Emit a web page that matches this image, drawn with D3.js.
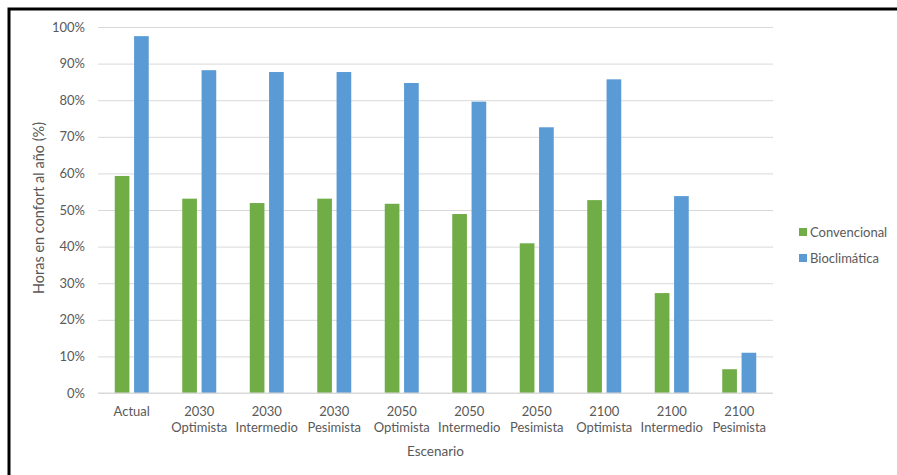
<!DOCTYPE html>
<html>
<head>
<meta charset="utf-8">
<script src="https://cdn.jsdelivr.net/npm/d3@7"></script>
<style>
  html, body { margin: 0; padding: 0; background: #fff; }
  svg { display: block; }
  text { font-family: Lato, "Open Sans", sans-serif; fill: #595959; }
</style>
</head>
<body>
<svg id="chart" width="897" height="475"></svg>
<script>
// Scenario categories (two-line labels) and comfort hours per building type
const scenarios = [
  ["Actual"],
  ["2030", "Optimista"],
  ["2030", "Intermedio"],
  ["2030", "Pesimista"],
  ["2050", "Optimista"],
  ["2050", "Intermedio"],
  ["2050", "Pesimista"],
  ["2100", "Optimista"],
  ["2100", "Intermedio"],
  ["2100", "Pesimista"]
];
const convencional = [59.3, 53.1, 51.9, 53.1, 51.7, 48.9, 40.9, 52.7, 27.3, 6.5];
const bioclimatica = [97.5, 88.2, 87.7, 87.7, 84.7, 79.6, 72.6, 85.7, 53.8, 11.0];
const seriesNames = ["Convencional", "Bioclimática"];
const seriesColors = ["#70ad47", "#5b9bd5"];
const yTicks = [0, 10, 20, 30, 40, 50, 60, 70, 80, 90, 100];

const svg = d3.select("#chart");
const margin = { left: 98, right: 124, top: 27, bottom: 82 };
const W = 897, H = 475;
const plotW = W - margin.left - margin.right;
const plotH = H - margin.top - margin.bottom;

// Outer frame
svg.append("rect")
  .attr("x", 9).attr("y", 9)
  .attr("width", W + 10).attr("height", H + 10)
  .attr("fill", "none").attr("stroke", "#000").attr("stroke-width", 3);

const g = svg.append("g").attr("transform", `translate(${margin.left},${margin.top})`);

const x0 = d3.scaleBand().domain(d3.range(scenarios.length)).range([0, plotW]).paddingInner(0).paddingOuter(0);
const x1 = d3.scaleBand().domain(d3.range(seriesNames.length)).range([0, 34]).paddingInner(0.24);
const y = d3.scaleLinear().domain([0, 100]).range([plotH, 0]);

// Horizontal gridlines
const yAxis = d3.axisLeft(y).tickValues(yTicks).tickSize(-plotW).tickFormat(d => d + "%").tickPadding(13);
const ya = g.append("g").call(yAxis);
ya.select(".domain").remove();
ya.selectAll(".tick line").attr("stroke", "#d9d9d9").attr("stroke-width", 1);
ya.selectAll(".tick text").attr("font-size", 13).attr("fill", "#595959")
  .style("font-family", "Lato, 'Open Sans', sans-serif");

// Bars
const groups = g.selectAll(".grp").data(scenarios).enter().append("g")
  .attr("transform", (d, i) => `translate(${x0(i) + (x0.bandwidth() - 34) / 2},0)`);
const seriesData = [convencional, bioclimatica];
groups.selectAll("rect").data((d, i) => seriesData.map((s, k) => ({ k, v: s[i] })))
  .enter().append("rect")
  .attr("x", d => x1(d.k))
  .attr("width", x1.bandwidth())
  .attr("y", d => y(d.v))
  .attr("height", d => plotH - y(d.v))
  .attr("fill", d => seriesColors[d.k]);

// Category axis line
g.append("line").attr("x1", 0).attr("x2", plotW).attr("y1", plotH).attr("y2", plotH)
  .attr("stroke", "#d9d9d9").attr("stroke-width", 1);

// Category labels
const xa = g.append("g").attr("transform", `translate(0,${plotH})`);
scenarios.forEach((lines, i) => {
  const t = xa.append("text")
    .attr("x", x0(i) + x0.bandwidth() / 2)
    .attr("y", 23)
    .attr("text-anchor", "middle")
    .attr("font-size", 13);
  lines.forEach((ln, j) => {
    t.append("tspan").attr("x", x0(i) + x0.bandwidth() / 2).attr("dy", j === 0 ? 0 : 16).text(ln);
  });
});

// Axis titles
svg.append("text")
  .attr("x", margin.left + plotW / 2).attr("y", 456)
  .attr("text-anchor", "middle").attr("font-size", 13.5)
  .text("Escenario");
svg.append("text")
  .attr("transform", `translate(44,${208}) rotate(-90)`)
  .attr("text-anchor", "middle").attr("font-size", 14.5)
  .text("Horas en confort al año (%)");

// Legend
const legend = svg.append("g").attr("transform", "translate(799,232)");
seriesNames.forEach((name, i) => {
  const row = legend.append("g").attr("transform", `translate(0,${i * 26})`);
  row.append("rect").attr("x", 0).attr("y", -4).attr("width", 8).attr("height", 8).attr("fill", seriesColors[i]);
  row.append("text").attr("x", 11).attr("y", 4.5).attr("font-size", 13).text(name);
});
</script>
</body>
</html>
